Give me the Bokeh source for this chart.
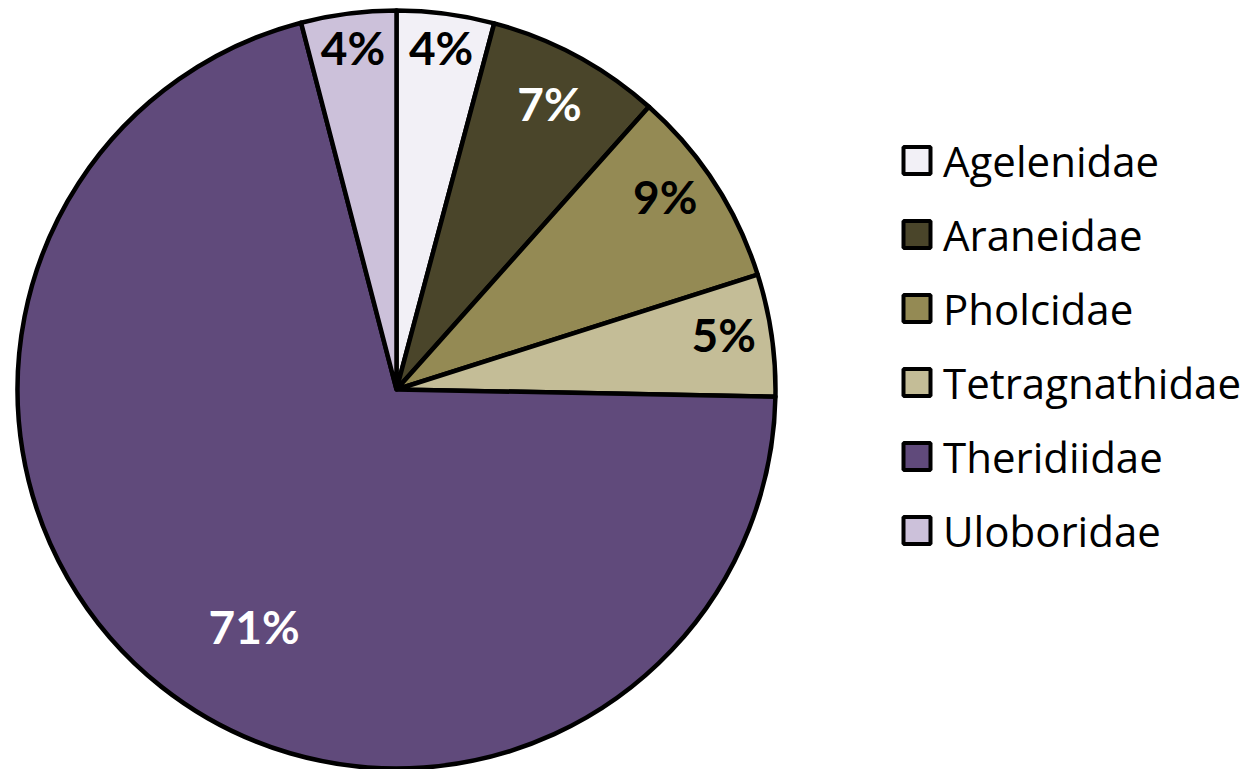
import math
from bokeh.plotting import figure
from bokeh.models import ColumnDataSource
from bokeh.core.properties import value
from bokeh.embed import file_html
from bokeh.resources import INLINE

# ---- data ----
families = ["Agelenidae", "Araneidae", "Pholcidae", "Tetragnathidae", "Theridiidae", "Uloboridae"]
shares = [4.15, 7.45, 8.5, 5.2, 70.65, 4.05]   # percent of individuals
colors = ["#F2F0F6", "#4A452A", "#948A54", "#C4BD97", "#604A7B", "#CCC1DA"]
label_colors = ["black", "white", "black", "black", "white", "black"]

# ---- styling / layout ----
W, H = 1260, 769
CX, CY, R = 396, 380, 379
label_r = [0.905, 0.85, 0.87, 0.875, 0.735, 0.905]
label_shift_deg = [0, 0, -2.5, -1, -7.5, 0]
LABEL_FONT = "Lato"
LEGEND_FONT = "Open Sans"

total = sum(shares)
starts, ends, lx, ly, labels = [], [], [], [], []
cum = 0.0
for i, s in enumerate(shares):
    f0 = cum / total
    f1 = (cum + s) / total
    cum += s
    starts.append(math.pi / 2 - 2 * math.pi * f0)
    ends.append(math.pi / 2 - 2 * math.pi * f1)
    mid = (f0 + f1) / 2 * 360 + label_shift_deg[i]   # degrees clockwise from top
    a = math.radians(mid)
    lx.append(CX + label_r[i] * R * math.sin(a))
    ly.append(CY + 2 + label_r[i] * R * math.cos(a))
    labels.append(f"{int(s / total * 100 + 0.5)}%")

src = ColumnDataSource(dict(start=starts, end=ends, color=colors, lx=lx, ly=ly,
                            label=labels, lcolor=label_colors))

p = figure(width=W, height=H, x_range=(0, W), y_range=(0, H),
           output_backend="svg", toolbar_location=None, min_border=0)
p.axis.visible = False
p.grid.visible = False
p.outline_line_color = None
p.background_fill_color = "white"
p.border_fill_color = "white"

p.wedge(x=CX, y=CY, radius=R, start_angle="start", end_angle="end", direction="clock",
        fill_color="color", line_color="black", line_width=4.5, line_join="round", source=src)

p.text(x="lx", y="ly", text="label", text_color="lcolor", source=src,
       text_font=value(LABEL_FONT), text_font_style="bold", text_font_size="46px",
       text_align="center", text_baseline="middle")

# legend (manual)
LEG_X, LEG_TOP, LEG_STEP = 916.5, 609, 74
leg_y = [LEG_TOP - i * LEG_STEP for i in range(len(families))]
leg = ColumnDataSource(dict(y=leg_y, color=colors, name=families))
p.rect(x=LEG_X, y="y", width=27, height=27, fill_color="color", line_color="black",
       line_width=4, source=leg)
p.text(x=LEG_X + 26, y="y", text="name", source=leg, text_font=value(LEGEND_FONT),
       text_font_size="42px", text_color="black", text_align="left", text_baseline="middle")

open("out.html", "w").write(file_html(p, INLINE))
